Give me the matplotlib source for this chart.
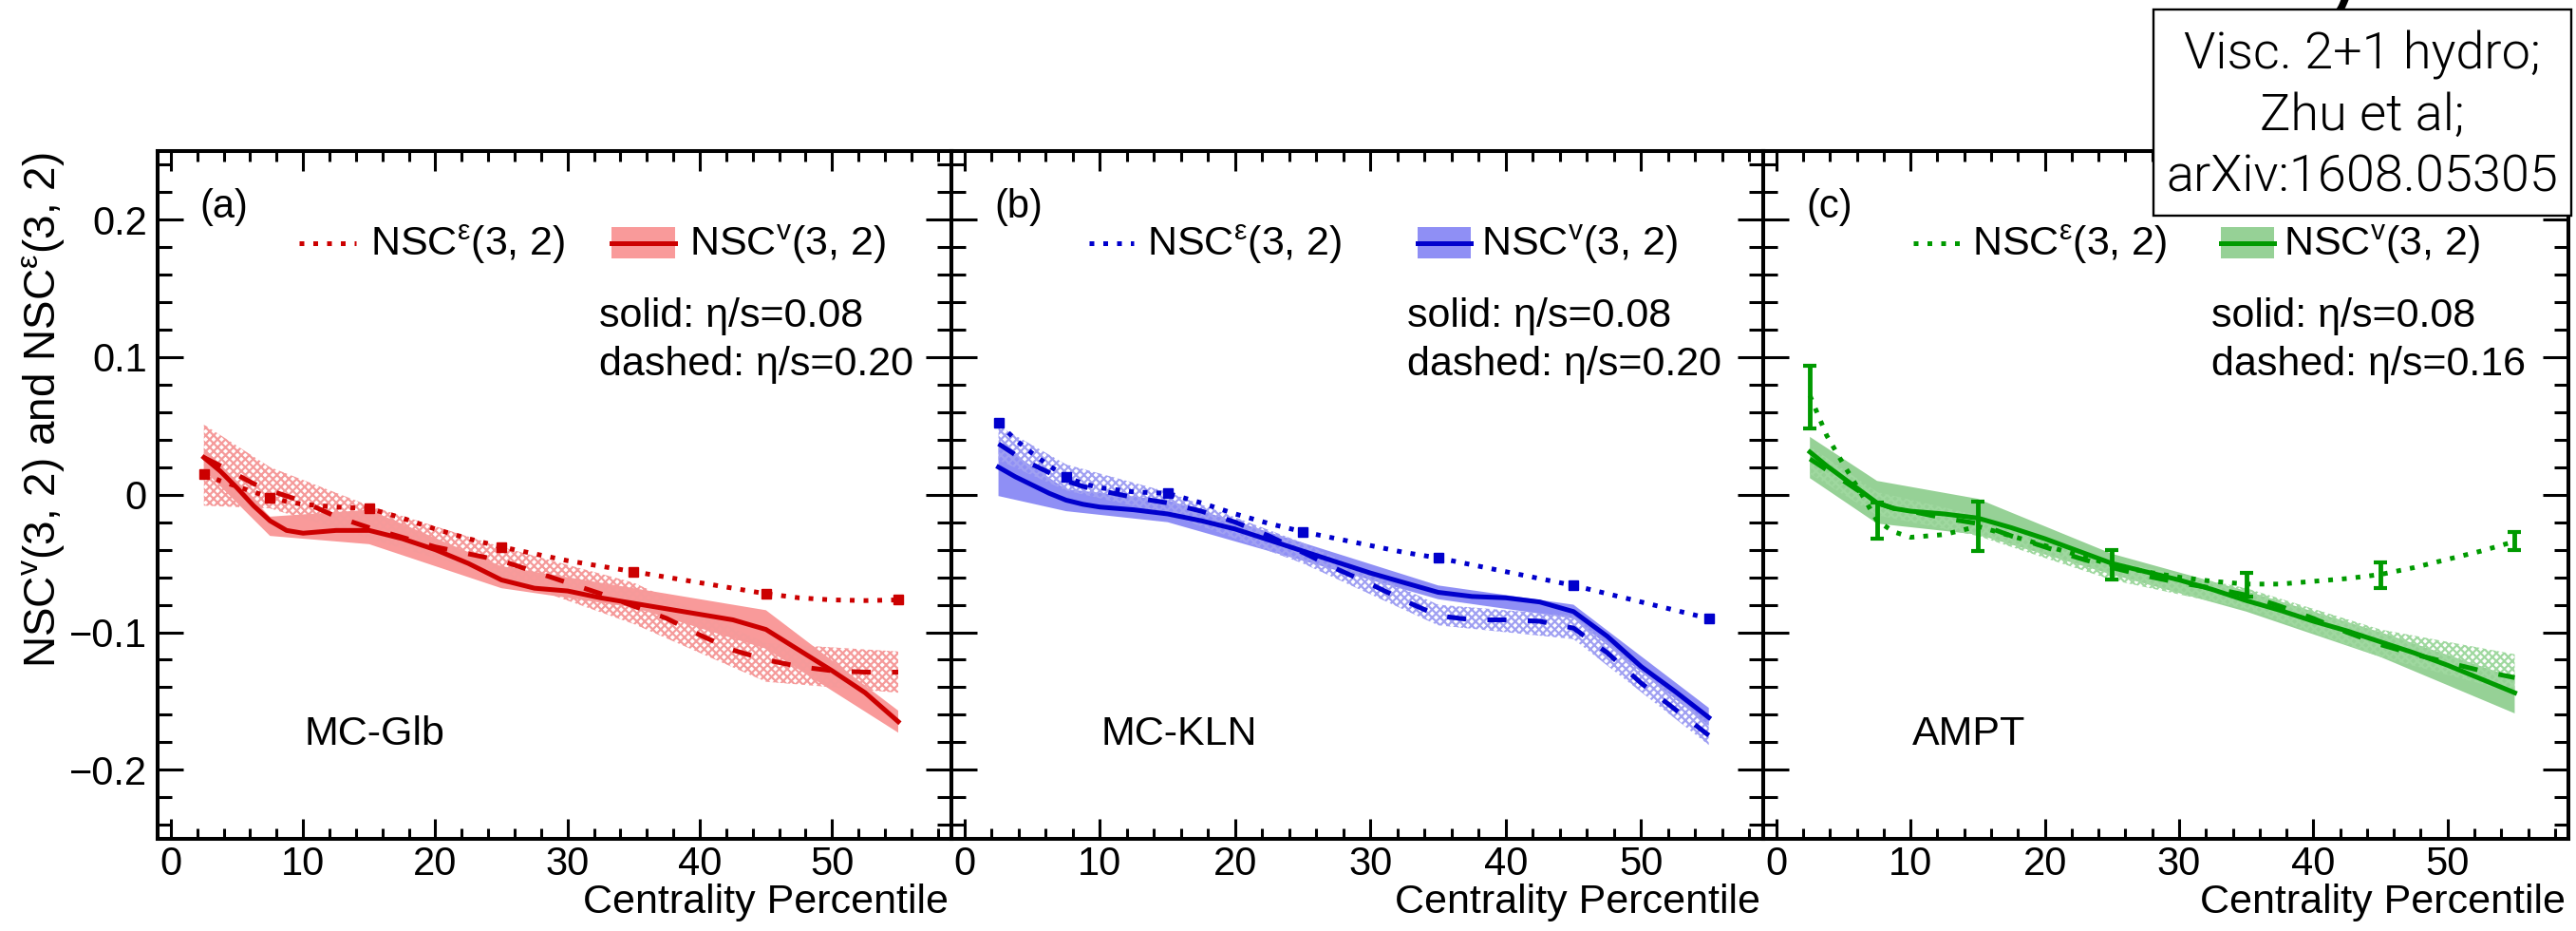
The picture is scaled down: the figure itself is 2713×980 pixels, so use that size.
import matplotlib
matplotlib.use('Agg')
import matplotlib.pyplot as plt
from matplotlib import font_manager
from matplotlib.patches import Rectangle
from matplotlib.ticker import MultipleLocator, FuncFormatter

# centrality grid of the model curves
cent = [2.5, 3.75, 5, 6.25, 7.5, 8.75, 10, 12.5, 15, 17.5, 20, 22.5, 25, 27.5, 30,
        32.5, 35, 37.5, 40, 42.5, 45, 47.5, 50, 52.5, 55]
# centrality points of the bands / markers
band_cent = [2.5, 7.5, 15, 25, 35, 45, 55]

# (a) MC-Glb
glb_solid = [0.027, 0.017, 0.005, -0.008, -0.019, -0.026, -0.028, -0.026, -0.026, -0.032, -0.040, -0.050,
             -0.062, -0.068, -0.070, -0.075, -0.079, -0.083, -0.087, -0.091, -0.098, -0.113, -0.128, -0.144, -0.165]
glb_dashed = [0.027, 0.021, 0.0145, 0.008, 0.003, -0.001, -0.005, -0.016, -0.024, -0.031, -0.038, -0.043,
              -0.048, -0.056, -0.064, -0.072, -0.081, -0.090, -0.102, -0.113, -0.120, -0.125, -0.128, -0.129, -0.129]
glb_dotted = [0.015, 0.010, 0.006, 0.002, -0.002, -0.005, -0.007, -0.009, -0.010, -0.017, -0.025, -0.032,
              -0.038, -0.043, -0.048, -0.052, -0.056, -0.060, -0.064, -0.068, -0.072, -0.075, -0.0765, -0.077, -0.0765]
glb_solid_lo = [0.018, -0.030, -0.036, -0.068, -0.082, -0.112, -0.173]
glb_solid_hi = [0.034, -0.016, -0.011, -0.052, -0.068, -0.084, -0.157]
glb_dash_lo = [-0.008, -0.010, -0.032, -0.060, -0.094, -0.136, -0.144]
glb_dash_hi = [0.051, 0.020, -0.008, -0.038, -0.064, -0.108, -0.114]

# (b) MC-KLN
kln_solid = [0.020, 0.013, 0.007, 0.001, -0.004, -0.007, -0.009, -0.011, -0.014, -0.019, -0.025, -0.033,
             -0.041, -0.049, -0.057, -0.064, -0.071, -0.074, -0.075, -0.078, -0.085, -0.103, -0.125, -0.143, -0.162]
kln_dashed = [0.037, 0.029, 0.022, 0.016, 0.010, 0.006, 0.003, -0.002, -0.006, -0.012, -0.020, -0.030,
              -0.042, -0.054, -0.065, -0.077, -0.088, -0.091, -0.091, -0.092, -0.097, -0.115, -0.137, -0.156, -0.175]
kln_dotted = [0.052, 0.040, 0.030, 0.021, 0.013, 0.008, 0.005, 0.002, 0.001, -0.006, -0.014, -0.021,
              -0.027, -0.032, -0.037, -0.042, -0.046, -0.051, -0.056, -0.061, -0.066, -0.072, -0.078, -0.084, -0.090]
kln_solid_lo = [-0.001, -0.012, -0.020, -0.048, -0.076, -0.090, -0.168]
kln_solid_hi = [0.037, 0.004, -0.004, -0.035, -0.066, -0.080, -0.155]
kln_dash_lo = [0.025, 0.003, -0.014, -0.050, -0.095, -0.105, -0.182]
kln_dash_hi = [0.050, 0.022, 0.002, -0.035, -0.080, -0.088, -0.165]

# (c) AMPT
ampt_solid = [0.031, 0.021, 0.012, 0.003, -0.006, -0.010, -0.012, -0.014, -0.017, -0.024, -0.032, -0.041,
              -0.050, -0.056, -0.062, -0.069, -0.077, -0.084, -0.092, -0.099, -0.107, -0.115, -0.124, -0.134, -0.144]
ampt_dashed = [0.026, 0.018, 0.010, 0.002, -0.006, -0.010, -0.012, -0.017, -0.021, -0.030, -0.038, -0.046,
               -0.053, -0.059, -0.064, -0.068, -0.073, -0.081, -0.090, -0.100, -0.109, -0.116, -0.122, -0.128, -0.133]
ampt_dotted = [0.072, 0.043, 0.022, 0.002, -0.019, -0.027, -0.031, -0.029, -0.023, -0.030, -0.037, -0.044,
               -0.051, -0.056, -0.060, -0.063, -0.065, -0.065, -0.063, -0.061, -0.058, -0.053, -0.047, -0.041, -0.034]
ampt_solid_lo = [0.012, -0.021, -0.029, -0.058, -0.085, -0.118, -0.159]
ampt_solid_hi = [0.042, 0.010, -0.003, -0.043, -0.070, -0.100, -0.133]
ampt_dash_lo = [0.015, -0.015, -0.030, -0.062, -0.083, -0.118, -0.144]
ampt_dash_hi = [0.035, 0.002, -0.015, -0.048, -0.068, -0.098, -0.116]
ampt_ecc_pts = [0.071, -0.019, -0.023, -0.051, -0.0655, -0.0585, -0.0335]
ampt_ecc_err = [0.023, 0.013, 0.018, 0.011, 0.0085, 0.0095, 0.0065]

ytick_vals = [-0.2, -0.1, 0, 0.1, 0.2]

plt.rcParams['font.family'] = ['Liberation Sans', 'DejaVu Sans']
plt.rcParams['mathtext.fontset'] = 'custom'
plt.rcParams['mathtext.rm'] = 'Liberation Sans'
plt.rcParams['hatch.linewidth'] = 1.6

# light face for the citation box
light_fp = None
for want in ['Roboto', 'Roboto Light', 'Lato', 'Lato Light', 'Open Sans', 'Open Sans Light', 'Inter', 'Inter Light']:
    for f in font_manager.fontManager.ttflist:
        if f.name == want and f.weight in (300, 'light') and f.style == 'normal':
            light_fp = font_manager.FontProperties(fname=f.fname, size=39)
            break
    if light_fp is not None:
        break
if light_fp is None:
    light_fp = font_manager.FontProperties(family='Liberation Sans', size=38)

fig = plt.figure(figsize=(27.13, 9.8), dpi=100)
W, H = 2713.0, 980.0
bot = 1 - 882.7 / H
hgt = 724.0 / H

panels = [
    dict(left=166.0, right=1001.7, tag='(a)', model='MC-Glb', eta='0.20',
         line='#cc0000', fill='#f99a9a', hatch='#f59a9a',
         solid=glb_solid, dashed=glb_dashed, dotted=glb_dotted,
         slo=glb_solid_lo, shi=glb_solid_hi, dlo=glb_dash_lo, dhi=glb_dash_hi,
         leg=(9.7, 14.0, 15.1, 33.3, 38.1, 39.2), eta_x=32.4),
    dict(left=1001.7, right=1856.7, tag='(b)', model='MC-KLN', eta='0.20',
         line='#0000cc', fill='#8f8ff5', hatch='#a0a0f2',
         solid=kln_solid, dashed=kln_dashed, dotted=kln_dotted,
         slo=kln_solid_lo, shi=kln_solid_hi, dlo=kln_dash_lo, dhi=kln_dash_hi,
         leg=(9.2, 12.5, 13.5, 33.5, 37.4, 38.2), eta_x=32.7),
    dict(left=1856.7, right=2705.0, tag='(c)', model='AMPT', eta='0.16',
         line='#009a00', fill='#96d196', hatch='#9fd89f',
         solid=ampt_solid, dashed=ampt_dashed, dotted=ampt_dotted,
         slo=ampt_solid_lo, shi=ampt_solid_hi, dlo=ampt_dash_lo, dhi=ampt_dash_hi,
         leg=(10.2, 13.7, 14.6, 33.1, 37.1, 37.8), eta_x=32.4),
]

lw = 3.6
for i, p in enumerate(panels):
    ax = fig.add_axes([p['left'] / W, bot, (p['right'] - p['left']) / W, hgt])
    ax.set_xlim(-1, 59)
    ax.set_ylim(-0.25, 0.25)
    c = p['line']

    ax.fill_between(band_cent, p['slo'], p['shi'], facecolor=p['fill'], edgecolor='none', lw=0, zorder=1)
    ax.fill_between(band_cent, p['dlo'], p['dhi'], facecolor='none', edgecolor=p['hatch'],
                    hatch='xxxx', lw=0, zorder=2)
    ax.plot(cent, p['solid'], color=c, lw=lw, zorder=4)
    ax.plot(cent, p['dashed'], color=c, lw=lw, ls=(0, (4, 4.5)), zorder=4)
    ax.plot(cent, p['dotted'], color=c, lw=lw, ls=(0, (1, 1.9)), dash_capstyle='butt', zorder=4)
    if i < 2:
        mk_y = [p['dotted'][cent.index(x)] for x in band_cent]
        ax.plot(band_cent, mk_y, ls='none', marker='s', ms=6.5, color=c, zorder=5)
    else:
        ax.errorbar(band_cent, ampt_ecc_pts, yerr=ampt_ecc_err, fmt='none', ecolor=c,
                    elinewidth=3.5, capsize=5, capthick=3, zorder=5)

    # legend, drawn by hand
    d0, d1, t1, b0, b1, t2 = p['leg']
    ax.plot([d0, d1], [0.183, 0.183], color=c, lw=lw, ls=(0, (1, 1.9)), dash_capstyle='butt')
    ax.add_patch(Rectangle((b0, 0.1715), b1 - b0, 0.023, facecolor=p['fill'], edgecolor='none'))
    ax.plot([b0, b1], [0.183, 0.183], color=c, lw=lw)
    ax.text(t1, 0.1736, r'NSC$^{\mathregular{\epsilon}}$(3, 2)', fontsize=31, va='baseline')
    ax.text(t2, 0.1736, r'NSC$^{\mathregular{v}}$(3, 2)', fontsize=31, va='baseline')
    ax.text(p['eta_x'], 0.1218, 'solid: \u03b7/s=0.08', fontsize=31, va='baseline')
    ax.text(p['eta_x'], 0.087, 'dashed: \u03b7/s=' + p['eta'], fontsize=31, va='baseline')
    ax.text(2.2, 0.2012, p['tag'], fontsize=30, va='baseline')
    ax.text(10.1, -0.1818, p['model'], fontsize=31, va='baseline')
    ax.text(0.997, -0.1077, 'Centrality Percentile', fontsize=31, ha='right', va='baseline',
            transform=ax.transAxes)

    ax.xaxis.set_major_locator(MultipleLocator(10))
    ax.xaxis.set_minor_locator(MultipleLocator(2))
    ax.set_yticks(ytick_vals)
    ax.yaxis.set_minor_locator(MultipleLocator(0.02))
    ax.yaxis.set_major_formatter(FuncFormatter(lambda v, _: ('%g' % round(v, 2)).replace('-', '\u2212')))
    ax.tick_params(which='both', direction='in', top=True, right=True, width=2.2, colors='black')
    ax.tick_params(axis='x', which='major', length=15, labelsize=30, pad=5)
    ax.tick_params(axis='x', which='minor', length=8)
    ax.tick_params(axis='y', which='major', length=19.5, labelsize=30, pad=8, labelleft=(i == 0))
    ax.tick_params(axis='y', which='minor', length=10.5)
    for s in ax.spines.values():
        s.set_linewidth(2.9)

fig.text(0.0166, 0.836, r'NSC$^{\mathregular{v}}$(3, 2) and NSC$^{\mathregular{\epsilon}}$(3, 2)',
         rotation=90, ha='center', va='top', fontsize=33)

# citation box on top right
fig.add_artist(Rectangle((2268 / W, 1 - 227 / H), 440 / W, 217 / H, transform=fig.transFigure,
                         facecolor='white', edgecolor='black', lw=1.7, zorder=10))
for txt, base in [('Visc. 2+1 hydro;', 72.6), ('Zhu et al;', 136.7), ('arXiv:1608.05305', 201.0)]:
    fig.text(2488 / W, 1 - base / H, txt, ha='center', va='baseline', fontproperties=light_fp, zorder=11)

# tail of the slide title cut by the top edge
fig.text(2444 / W, 1.0, 'y', fontsize=72, ha='left', va='baseline')

fig.savefig('out.png', dpi=100)
